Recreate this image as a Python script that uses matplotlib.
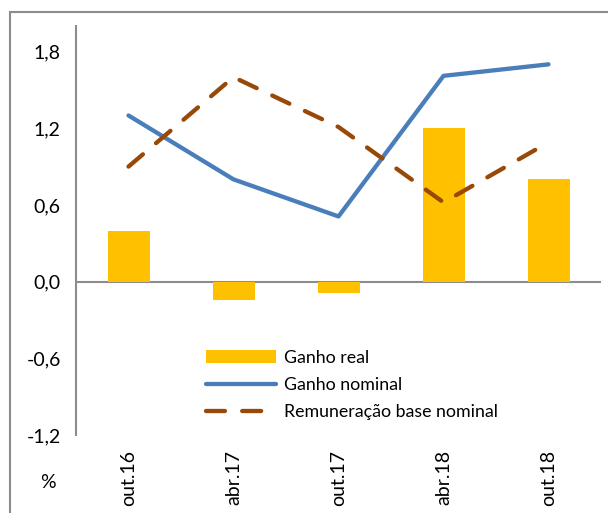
"""
ganho real / nominal e remuneracao base nominal, out.16 - out.18
"""

import matplotlib.pyplot as plt
import numpy as np
from matplotlib.patches import Rectangle

plt.rcParams["font.family"] = ["Lato", "DejaVu Sans"]

# %%
# data
periodos = ["out.16", "abr.17", "out.17", "abr.18", "out.18"]
ganho_real = [0.40, -0.14, -0.09, 1.20, 0.80]
ganho_nominal = [1.30, 0.80, 0.51, 1.61, 1.70]
remun_base_nominal = [0.90, 1.60, 1.21, 0.62, 1.09]
y_ticks = [-1.2, -0.6, 0.0, 0.6, 1.2, 1.8]

# %%
fig = plt.figure(figsize=(6.08, 5.13), dpi=100)
ax = fig.add_axes([76 / 608, 78 / 513, 525 / 608, 409 / 513])

x = np.arange(len(periodos))
bars = ax.bar(x, ganho_real, width=0.4, color="#FFC000", label="Ganho real", zorder=2)
(l_nom,) = ax.plot(
    x, ganho_nominal, color="#4A7EBB", lw=3.1, solid_capstyle="round",
    label="Ganho nominal", zorder=3,
)
(l_rem,) = ax.plot(
    x, remun_base_nominal, color="#984807", lw=3.1, dashes=(4.4, 4.0),
    dash_capstyle="round", label="Remuneração base nominal", zorder=3,
)
ax.axhline(0, color="#8C8C8C", lw=1.5, zorder=1)

ax.set_xlim(-0.5, 4.5)
ax.set_ylim(-1.2, 2.0)
ax.set_yticks(y_ticks)
ax.set_yticklabels([f"{v:.1f}".replace(".", ",") for v in y_ticks], fontsize=14)
ax.set_xticks(x)
ax.set_xticklabels(periodos, rotation=90, fontsize=14, va="top")
ax.tick_params(axis="both", length=0)
ax.tick_params(axis="y", pad=11)
ax.tick_params(axis="x", pad=11)

for side in ["top", "right", "bottom"]:
    ax.spines[side].set_visible(False)
ax.spines["left"].set_color("#8C8C8C")
ax.spines["left"].set_linewidth(1.5)

ax.legend(
    [bars, l_nom, l_rem],
    ["Ganho real", "Ganho nominal", "Remuneração base nominal"],
    loc="upper left", bbox_to_anchor=(0.235, 0.225), frameon=False,
    fontsize=12.8, handlelength=3.9, handleheight=0.75, handletextpad=0.45,
    labelspacing=0.62, borderaxespad=0,
)

fig.text(48 / 608, 1 - 482 / 513, "%", fontsize=14, ha="center", va="center")

# outer frame, cut off at right and bottom like the original
fig.patches.append(
    Rectangle(
        (10 / 608, -0.1), 1.2, 1 - 12 / 513 + 0.1, transform=fig.transFigure,
        fill=False, edgecolor="#8C8C8C", lw=1.5,
    )
)

fig.savefig("out.png", dpi=100)
